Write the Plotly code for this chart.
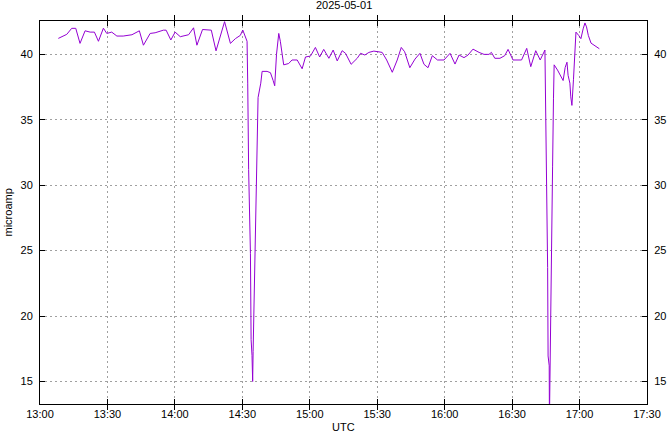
import datetime as dt
import plotly.graph_objects as go

# minutes after 13:00 UTC, 2025-05-01
minutes = [8.15, 11.9, 14.1, 15.9, 17.8, 20.05, 22.3, 24.2, 26.0, 28.2, 29.7, 31.9, 34.2, 37.0,
           40.9, 44.2, 46.0, 49.0, 51.2, 54.9, 56.1, 58.2, 60.1, 62.4, 66.1, 68.3, 69.8, 72.3,
           76.2, 78.3, 82.1, 84.7, 86.9, 89.1, 90.2, 92.1, 92.4, 92.8, 93.6, 93.9, 94.3, 94.6,
           94.8, 95.3, 95.8, 96.7, 97.0, 98.2, 98.8, 101.0, 102.5, 103.7, 104.4, 105.2, 106.2,
           106.9, 107.7, 108.4, 110.6, 112.1, 114.4, 116.6, 118.1, 120.3, 122.5, 124.4, 126.2,
           128.5, 130.4, 132.2, 134.4, 135.9, 138.4, 141.1, 142.6, 144.5, 146.3, 148.5, 152.2,
           154.2, 156.7, 158.9, 160.7, 162.2, 164.5, 166.8, 169.0, 170.8, 172.6, 174.5, 176.8,
           179.7, 182.4, 184.6, 186.4, 188.6, 190.4, 192.6, 195.3, 197.5, 199.7, 200.8, 202.3,
           204.6, 206.7, 208.2, 210.4, 214.2, 216.5, 218.3, 220.5, 222.5, 224.6, 224.9, 225.3,
           225.8, 226.0, 226.5, 226.6, 226.9, 227.2, 227.6, 228.0, 228.4, 228.7, 230.2, 231.7,
           232.7, 233.6, 234.4, 234.9, 235.7, 236.1, 236.6, 237.3, 237.6, 238.4, 239.6, 240.6,
           241.6, 242.4, 243.1, 243.9, 245.1, 246.5, 248.8]

current = [41.22, 41.53, 41.99, 41.99, 40.84, 41.8, 41.7, 41.7, 41.0, 42.0, 41.6, 41.7, 41.4, 41.4,
           41.5, 41.8, 40.7, 41.6, 41.65, 41.85, 41.85, 41.1, 41.7, 41.35, 41.5, 42.03, 40.7, 41.9,
           41.85, 40.27, 42.5, 40.84, 41.2, 41.45, 41.86, 41.0, 37.8, 31.2, 24.8, 18.2, 17.0, 15.0,
           17.3, 21.4, 26.0, 34.4, 36.7, 37.8, 38.7, 38.7, 38.6, 38.0, 37.6, 40.0, 41.6,
           41.0, 40.0, 39.2, 39.3, 39.57, 39.57, 38.9, 39.8, 39.87, 40.53, 39.8, 40.38,
           39.7, 40.33, 39.5, 40.28, 40.08, 39.24, 39.7, 40.08, 39.95, 40.15, 40.25, 40.15,
           39.57, 38.63, 39.57, 40.53, 40.2, 38.98, 39.64, 40.08, 39.24, 38.98, 39.9, 39.57,
           39.57, 40.08, 39.26, 39.95, 39.75, 39.95, 40.4, 40.15, 40.0, 40.0, 40.15, 39.7,
           39.7, 39.9, 40.38, 39.57, 39.57, 40.46, 39.06, 40.28, 39.57, 40.33, 37.0, 30.3,
           23.7, 16.95, 16.2, 12.0, 17.2, 21.3, 26.3, 31.4, 36.6, 39.2, 38.8, 38.3,
           38.0, 39.0, 39.4, 38.4, 37.8, 36.75, 36.1, 38.1, 39.5, 41.7, 41.45, 41.2,
           41.95, 42.4, 42.1, 41.45, 40.86, 40.7, 40.43]

y_ticks = [15, 20, 25, 30, 35, 40]
x_start = "2025-05-01 13:00:00"
x_end = "2025-05-01 17:30:00"

base = dt.datetime(2025, 5, 1, 13, 0, 0)
times = [base + dt.timedelta(minutes=m) for m in minutes]

FONT = "Liberation Sans, Arial, sans-serif"
YR = [13.28, 42.55]

fig = go.Figure()
fig.add_trace(go.Scatter(x=times, y=current, mode="lines",
                         line=dict(color="#9400D3", width=1),
                         showlegend=False, hoverinfo="x+y"))
fig.add_trace(go.Scatter(x=times, y=current, mode="lines", yaxis="y2",
                         line=dict(color="rgba(0,0,0,0)", width=1),
                         showlegend=False, hoverinfo="skip"))

axis_common = dict(showline=True, linecolor="black", linewidth=1, automargin=False,
                   ticks="inside", ticklen=5, tickcolor="black", tickwidth=1,
                   showgrid=True, gridcolor="#a0a0a0", gridwidth=1, griddash="2px,3px",
                   zeroline=False, tickfont=dict(family=FONT, size=11, color="black"))

fig.update_layout(
    width=667, height=432,
    margin=dict(l=40, r=20, t=21, b=28, autoexpand=False),
    paper_bgcolor="white", plot_bgcolor="white",
    font=dict(family=FONT, size=11, color="black"),
    xaxis=dict(axis_common, type="date", range=[x_start, x_end],
               dtick=1800000, tick0=x_start, tickformat="%H:%M", mirror="allticks"),
    yaxis=dict(axis_common, range=YR, tickvals=y_ticks, mirror="allticks",
               ticklabelstandoff=4),
    yaxis2=dict(axis_common, range=YR, tickvals=y_ticks, overlaying="y", side="right",
                showgrid=False, ticklabelstandoff=4),
    annotations=[
        dict(text="2025-05-01", x=0.5, xref="paper", y=1, yref="paper", yanchor="bottom",
             yshift=8, showarrow=False, font=dict(family=FONT, size=11)),
        dict(text="UTC", x=0.5, xref="paper", y=0, yref="paper", yanchor="top",
             yshift=-15, showarrow=False, font=dict(family=FONT, size=11)),
        dict(text="microamp", x=0, xref="paper", xanchor="center", xshift=-33, y=0.5,
             yref="paper", yanchor="middle", textangle=-90, showarrow=False,
             font=dict(family=FONT, size=11)),
    ],
)

fig.write_html("out.html", config={"displayModeBar": False},
               post_script="document.body.style.margin='0';")
